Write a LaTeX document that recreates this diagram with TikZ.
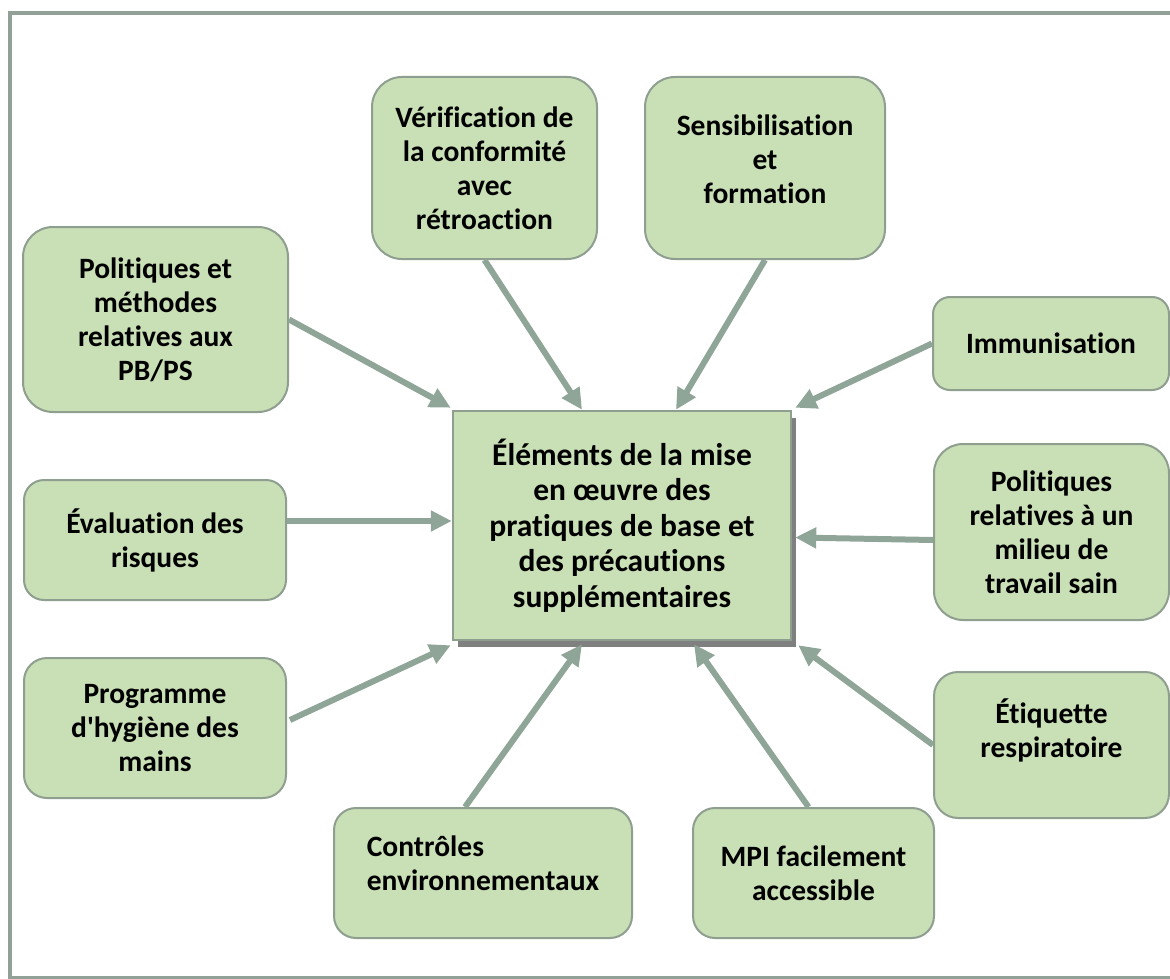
\documentclass[tikz,border=0pt]{standalone}
\usepackage{fontspec}
\setmainfont{Carlito}[Ligatures={TeXOff,CommonOff}]
\usetikzlibrary{arrows.meta,calc,shadows}
\definecolor{boxfill}{HTML}{C9DFB6}
\definecolor{boxline}{HTML}{8E9E8F}
\definecolor{linkcol}{HTML}{8FA597}
\definecolor{frame}{HTML}{91A197}
\definecolor{shade}{HTML}{808080}

\begin{document}
\begin{tikzpicture}[
    x=1pt, y=-1pt,
    box/.style={draw=boxline, line width=2pt, rounded corners=28pt, fill=boxfill, align=center, inner sep=4pt,
      font=\fontsize{29.5}{34}\selectfont\bfseries},
    hub/.style={box, rounded corners=0pt, line width=2.5pt, drop shadow={shadow xshift=5pt, shadow yshift=-7pt, fill=shade, opacity=1},
      font=\fontsize{31.5}{35.5}\selectfont\bfseries},
    link/.style={draw=linkcol, line width=6pt, -{Triangle[length=21pt,width=20pt]}}
  ]
    \useasboundingbox (0,0) rectangle (1170,979);
    \clip (0,0) rectangle (1170,979);
    \draw[frame, line width=4pt] (10,13) rectangle (1180,978);

    % centre
    \node[hub, minimum width=338pt, minimum height=229pt] (ctr) at (622,525.5)
      {Éléments de la mise\\en œuvre des\\pratiques de base et\\des précautions\\supplémentaires};

    % top row
    \node[box, minimum width=225pt, minimum height=182pt, rounded corners=30pt] (verif) at (484.5,168)
      {Vérification de\\la conformité\\avec\\rétroaction};
    \node[box, minimum width=240pt, minimum height=182pt, rounded corners=30pt] (sensib) at (765,168)
      {Sensibilisation\\et\\formation\\[-17pt]\mbox{}};

    % left column
    \node[box, minimum width=265pt, minimum height=185pt, rounded corners=30pt] (polit) at (155.5,319.5)
      {Politiques et\\méthodes\\relatives aux\\PB/PS};
    \node[box, minimum width=262pt, minimum height=120pt, rounded corners=20pt] (evalr) at (155,540)
      {Évaluation des\\risques};
    \node[box, minimum width=262pt, minimum height=140pt, rounded corners=23pt] (hygiene) at (155,728)
      {Programme\\d'hygiène des\\mains};

    % right column
    \node[box, minimum width=236pt, minimum height=93pt, rounded corners=17pt] (immun) at (1051,343.5)
      {Immunisation};
    \node[box, minimum width=235pt, minimum height=176pt, rounded corners=29pt] (milieu) at (1051.5,532)
      {Politiques\\relatives à un\\milieu de\\travail sain};
    \node[box, minimum width=235pt, minimum height=146pt, rounded corners=24pt] (etiq) at (1051.5,745)
      {Étiquette\\respiratoire\\ \mbox{}};

    % bottom row
    \node[box, minimum width=298pt, minimum height=130pt, rounded corners=22pt, align=left] (contr) at (483,873)
      {Contrôles\\environnementaux\\[-14pt]\mbox{}};
    \node[box, minimum width=241pt, minimum height=130pt, rounded corners=22pt] (mpi) at (813.5,873)
      {MPI facilement\\accessible};

    % connectors
    \draw[link] (verif.south) -- ($(ctr.north)+(-40,0)$);
    \draw[link] (sensib.south) -- ($(ctr.north)+(54,0)$);
    \draw[link] (polit.east) -- ($(ctr.north west)+(-1,-2)$);
    \draw[link] (immun.west) -- ($(ctr.north east)+(3,-2)$);
    \draw[link] (evalr.east |- 0,521) -- (ctr.west |- 0,521);
    \draw[link] ($(milieu.west)+(0,8)$) -- ($(ctr.east)+(3,12)$);
    \draw[link] ($(hygiene.east)+(3,-8)$) -- ($(ctr.south west)+(-1,4)$);
    \draw[link] (etiq.west) -- ($(ctr.south east)+(6,4)$);
    \draw[link] ($(contr.north)+(-18,0)$) -- ($(ctr.south)+(-40,3)$);
    \draw[link] ($(mpi.north)+(-5,0)$) -- ($(ctr.south)+(72,3)$);
  \end{tikzpicture}
\end{document}
